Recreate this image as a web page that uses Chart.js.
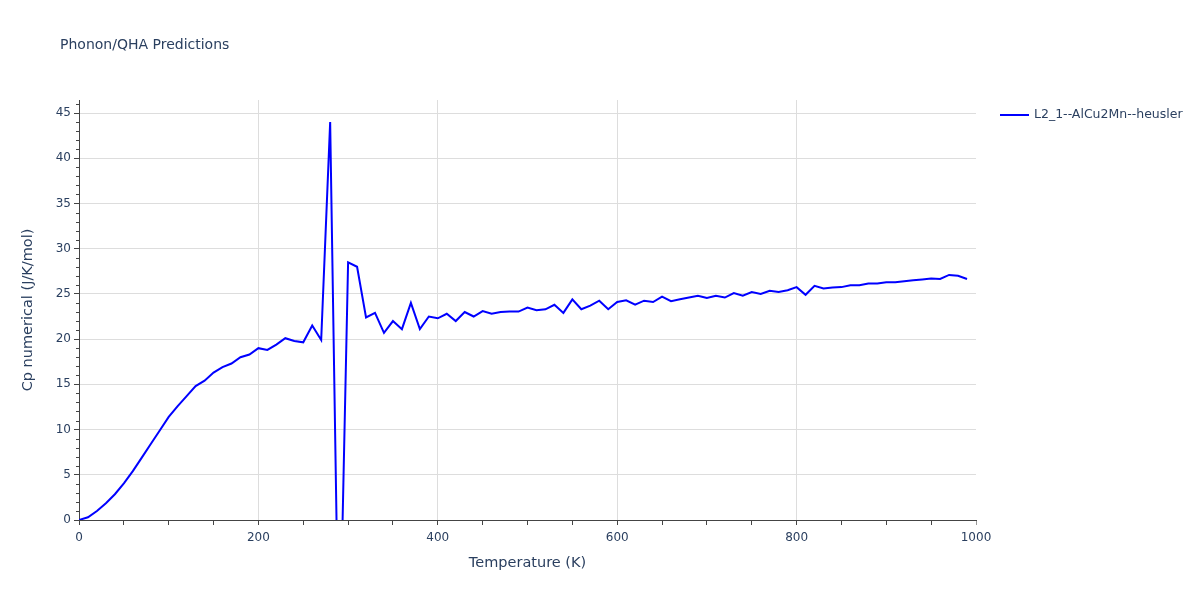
<!DOCTYPE html>
<html>
<head>
<meta charset="utf-8">
<title>Phonon/QHA Predictions</title>
<script src="https://cdn.jsdelivr.net/npm/chart.js@4.4.1/dist/chart.umd.min.js"></script>
<style>
  body { margin: 0; background: #fff; }
  #wrap { width: 1200px; height: 600px; position: relative; }
</style>
</head>
<body>
<div id="wrap"><canvas id="cpChart"></canvas></div>
<script>
const temps = [0, 10, 20, 30, 40, 50, 60, 70, 80, 90,
  100, 110, 120, 130, 140, 150, 160, 170, 180, 190,
  200, 210, 220, 230, 240, 250, 260, 270, 280, 290,
  300, 310, 320, 330, 340, 350, 360, 370, 380, 390,
  400, 410, 420, 430, 440, 450, 460, 470, 480, 490,
  500, 510, 520, 530, 540, 550, 560, 570, 580, 590,
  600, 610, 620, 630, 640, 650, 660, 670, 680, 690,
  700, 710, 720, 730, 740, 750, 760, 770, 780, 790,
  800, 810, 820, 830, 840, 850, 860, 870, 880, 890,
  900, 910, 920, 930, 940, 950, 960, 970, 980, 990];

const cpValues = [0, 0.3, 1.0, 1.85, 2.85, 4.05, 5.4, 6.9, 8.4, 9.9,
  11.4, 12.6, 13.7, 14.8, 15.4, 16.3, 16.9, 17.3, 18.0, 18.3,
  19.0, 18.8, 19.4, 20.1, 19.8, 19.65, 21.5, 19.9, 44.0, -18,
  28.5, 28.0, 22.4, 22.9, 20.7, 22.0, 21.1, 24.0, 21.1, 22.5,
  22.3, 22.8, 22.0, 23.0, 22.5, 23.1, 22.8, 23.0, 23.05, 23.05,
  23.5, 23.2, 23.3, 23.8, 22.9, 24.4, 23.3, 23.7, 24.25, 23.3,
  24.1, 24.3, 23.8, 24.25, 24.1, 24.7, 24.2, 24.4, 24.6, 24.8,
  24.55, 24.8, 24.6, 25.1, 24.8, 25.2, 25.0, 25.35, 25.2, 25.4,
  25.75, 24.9, 25.9, 25.6, 25.7, 25.75, 25.95, 25.95, 26.15, 26.15,
  26.3, 26.3, 26.4, 26.5, 26.6, 26.7, 26.65, 27.1, 27.0, 26.65];

const seriesName = 'L2_1--AlCu2Mn--heusler';
const xTicks = [0, 200, 400, 600, 800, 1000];
const yTicks = [0, 5, 10, 15, 20, 25, 30, 35, 40, 45];

const textColor = '#2a3f5f';
const gridColor = '#dddddd';
const axisColor = '#444444';
const fontFamily = '"DejaVu Sans", verdana, arial, sans-serif';

Chart.defaults.font.family = fontFamily;
Chart.defaults.color = textColor;

// title, legend and the short minor ticks on the y axis
const overlay = {
  id: 'overlay',
  afterDraw(chart) {
    const c = chart.ctx;
    const y = chart.scales.y;
    c.save();
    c.strokeStyle = axisColor;
    c.lineWidth = 1;
    c.beginPath();
    for (let v = 1; v <= 46; v++) {
      if (v % 5 === 0) continue;
      const py = Math.round(y.getPixelForValue(v)) + 0.5;
      c.moveTo(y.right - 3, py);
      c.lineTo(y.right, py);
    }
    c.stroke();

    c.fillStyle = textColor;
    c.font = '14px ' + fontFamily;
    c.textBaseline = 'middle';
    c.textAlign = 'left';
    c.fillText('Phonon/QHA Predictions', 60, 45);

    const ds = chart.data.datasets[0];
    c.strokeStyle = ds.borderColor;
    c.lineWidth = 2;
    c.beginPath();
    c.moveTo(1000, 115);
    c.lineTo(1029, 115);
    c.stroke();
    c.font = '12.5px ' + fontFamily;
    c.fillText(ds.label, 1034, 115);
    c.restore();
  }
};

const ctx = document.getElementById('cpChart').getContext('2d');
new Chart(ctx, {
  type: 'line',
  data: {
    datasets: [{
      label: seriesName,
      data: temps.map((t, i) => ({ x: t, y: cpValues[i] })),
      borderColor: '#0000ff',
      borderWidth: 2,
      pointRadius: 0,
      fill: false,
      tension: 0
    }]
  },
  options: {
    responsive: true,
    maintainAspectRatio: false,
    animation: false,
    layout: { padding: { left: 0, right: 224, top: 100, bottom: 0 } },
    plugins: {
      legend: { display: false },
      tooltip: { enabled: false }
    },
    scales: {
      x: {
        type: 'linear',
        min: 0,
        max: 1000,
        afterFit: s => { s.height = 80; },
        afterBuildTicks: s => {
          const t = [];
          for (let v = 0; v <= 1000; v += 50) t.push({ value: v });
          s.ticks = t;
        },
        ticks: {
          autoSkip: false,
          maxRotation: 0,
          padding: 6,
          font: { size: 12 },
          callback: v => xTicks.includes(v) ? String(v) : ''
        },
        grid: {
          tickLength: 5,
          color: c => (c.tick && c.tick.value % 200 === 0 && c.tick.value > 0 && c.tick.value < 1000) ? gridColor : 'rgba(0,0,0,0)',
          tickColor: c => (c.tick && c.tick.value === 1000) ? '#999' : axisColor,
          lineWidth: 1
        },
        border: { display: true, color: axisColor, width: 1 },
        title: {
          display: true,
          text: 'Temperature (K)',
          font: { size: 14.5 },
          padding: { top: 4, bottom: 28 }
        }
      },
      y: {
        type: 'linear',
        min: 0,
        max: 46.44,
        afterFit: s => { s.width = 79; },
        afterBuildTicks: s => {
          const t = [];
          for (let v = 0; v <= 46; v += 1) t.push({ value: v });
          s.ticks = t;
        },
        ticks: {
          autoSkip: false,
          padding: 3,
          font: { size: 12 },
          callback: v => yTicks.includes(v) ? String(v) : ''
        },
        grid: {
          tickLength: 5,
          color: c => (c.tick && c.tick.value % 5 === 0 && c.tick.value > 0) ? gridColor : 'rgba(0,0,0,0)',
          tickColor: c => (c.tick && c.tick.value % 5 === 0) ? axisColor : 'rgba(0,0,0,0)',
          lineWidth: 1
        },
        border: { display: true, color: axisColor, width: 1 },
        title: {
          display: true,
          text: 'Cp numerical (J/K/mol)',
          font: { size: 14.5 },
          padding: { top: 20, bottom: 4 }
        }
      }
    }
  },
  plugins: [overlay]
});
</script>
</body>
</html>
